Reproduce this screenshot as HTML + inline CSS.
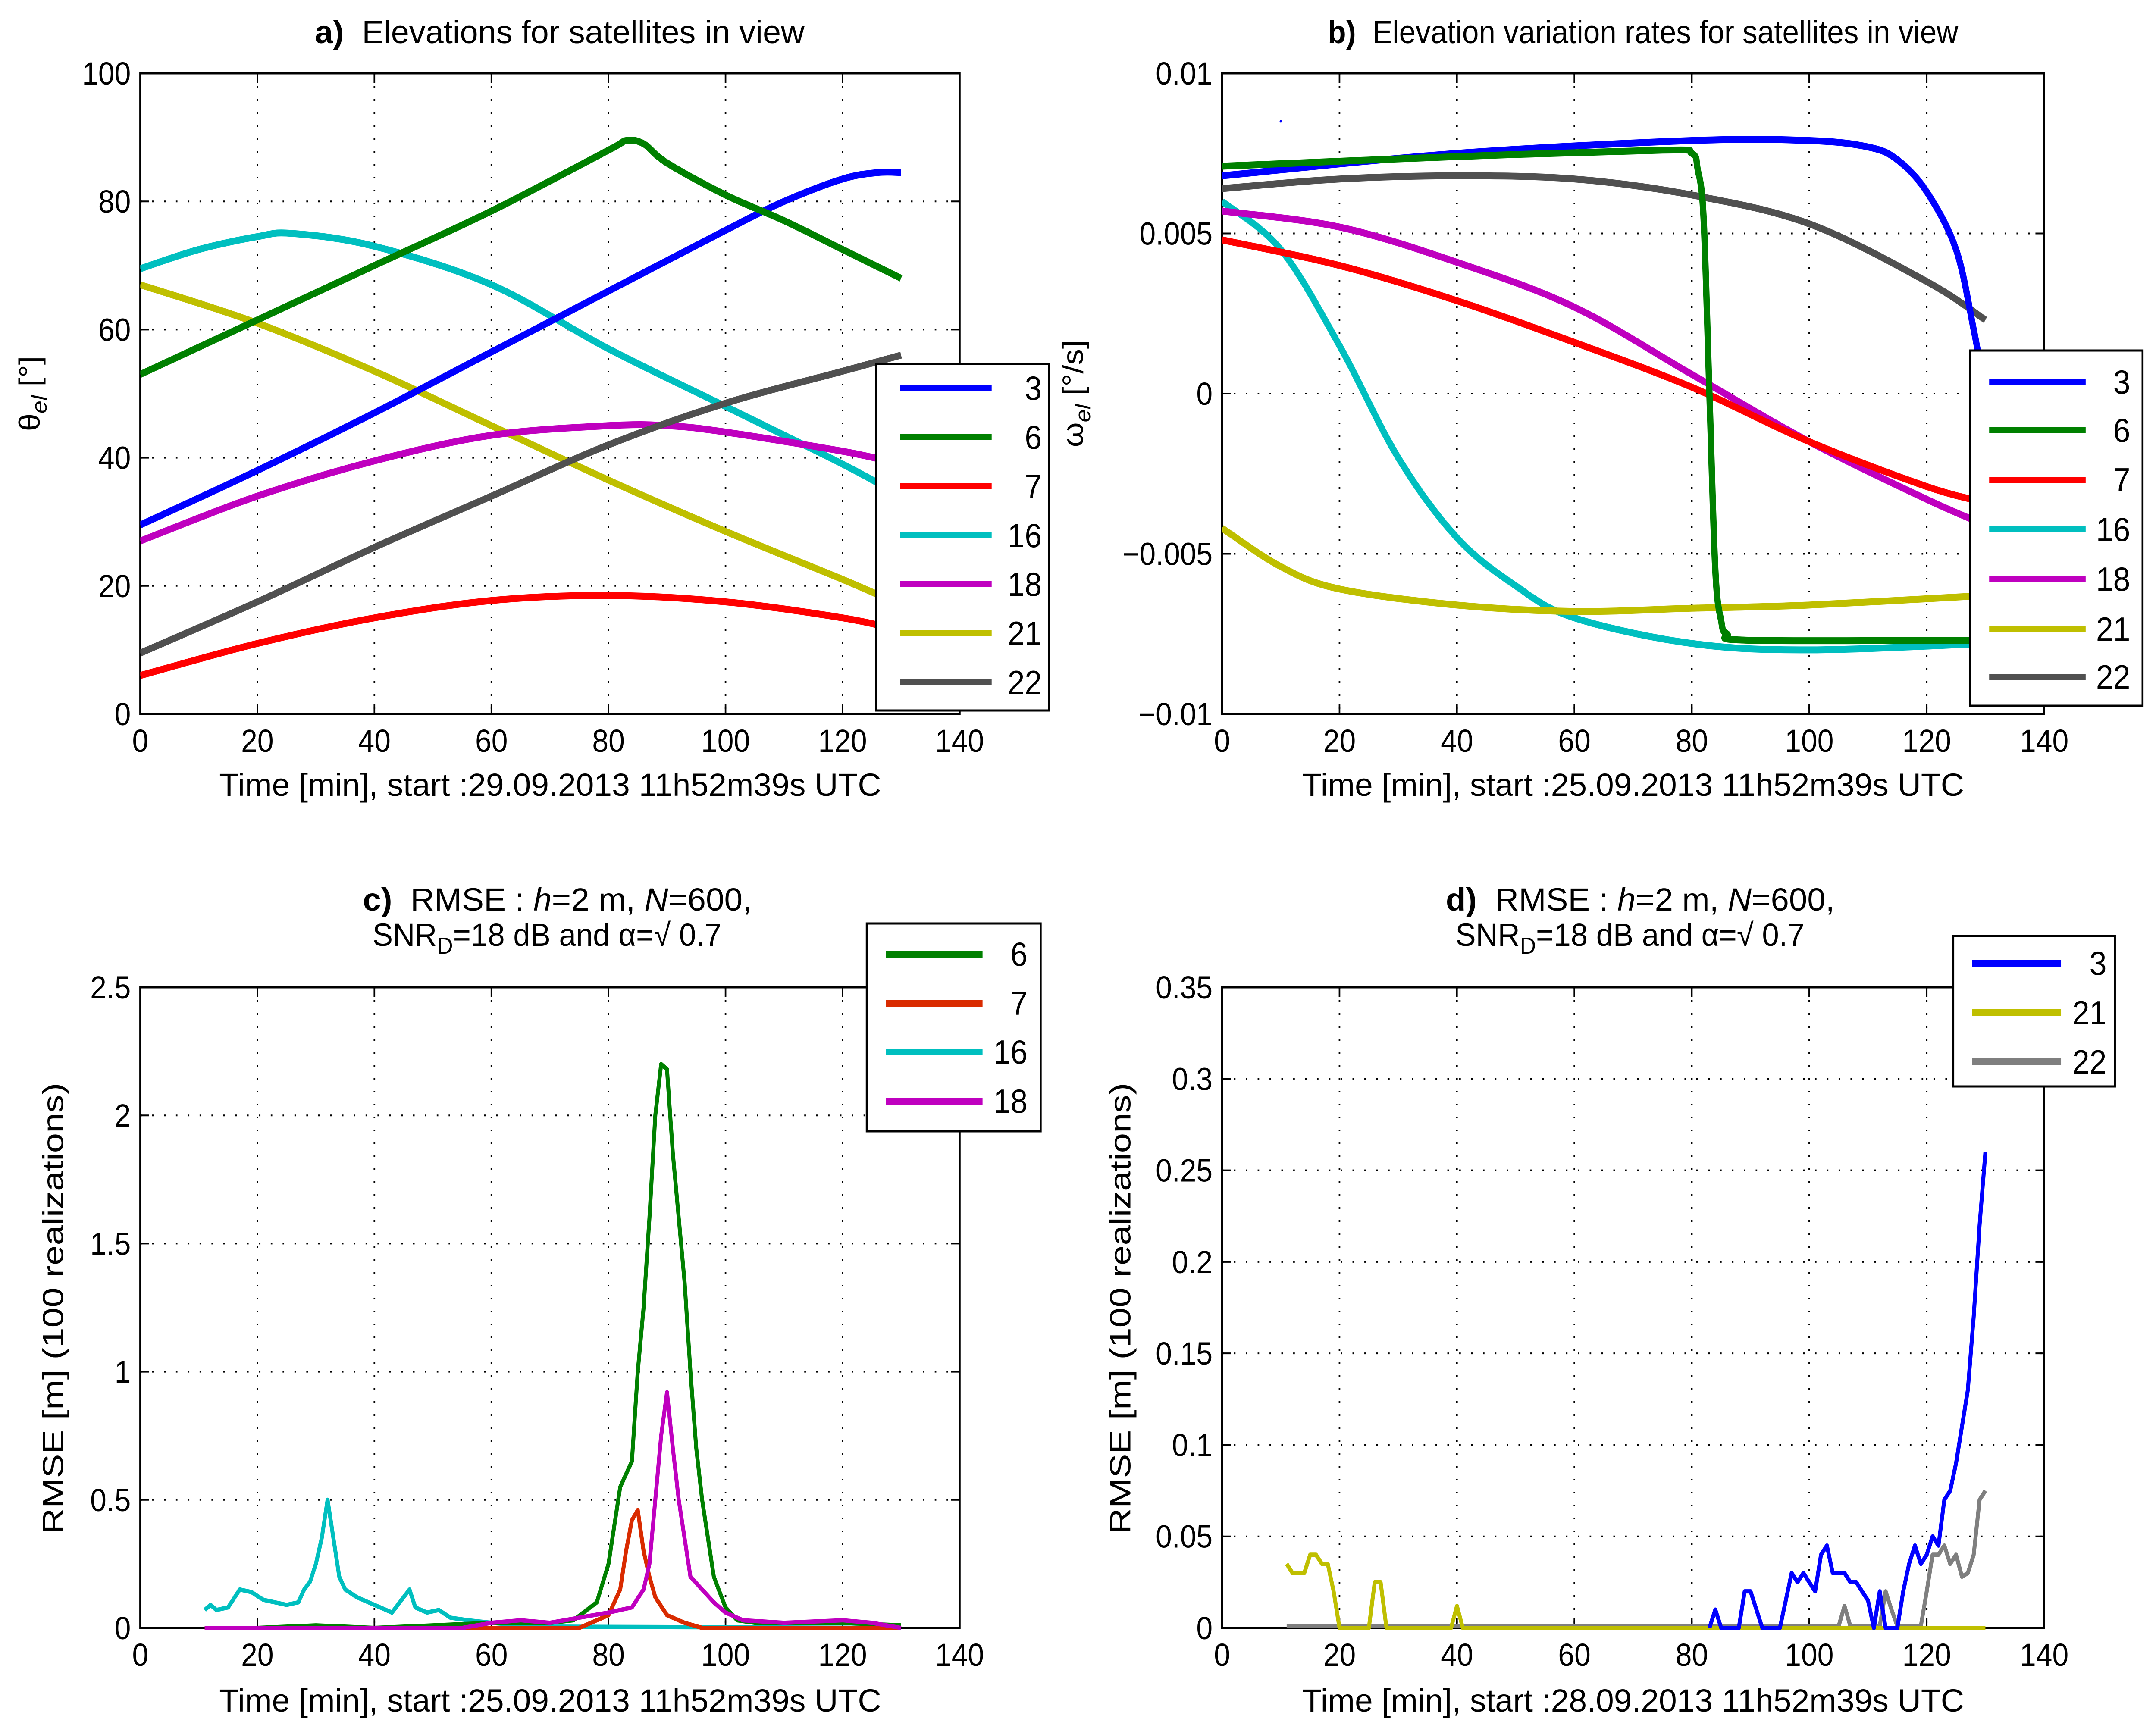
<!DOCTYPE html>
<html><head><meta charset="utf-8"><style>
html,body{margin:0;padding:0;background:#fff;overflow:hidden;width:100%;height:100%;}
svg{display:block;width:100vw;height:100vh;font-family:"Liberation Sans",Arial,sans-serif;}
</style></head><body>
<svg id="fig" xmlns="http://www.w3.org/2000/svg" viewBox="0 0 5455 4022" preserveAspectRatio="none"></svg>
<script>
// ---------- DATA ----------
const ticksX = [0,20,40,60,80,100,120,140];
const ticksA = [0,20,40,60,80,100];
const ticksB = [-0.01,-0.005,0,0.005,0.01];
const tickLabelsB = ["\u22120.01","\u22120.005","0","0.005","0.01"];
const ticksC = [0,0.5,1,1.5,2,2.5];
const tickLabelsC = ["0","0.5","1","1.5","2","2.5"];
const ticksD = [0,0.05,0.1,0.15,0.2,0.25,0.3,0.35];
const tickLabelsD = ["0","0.05","0.1","0.15","0.2","0.25","0.3","0.35"];

// Panel a: elevations
const aT3=[0,20,40,60,80,100,110,120,126,130], aV3=[29.5,38,47,56.5,66,75.5,80,83.5,84.5,84.5];
const aT6=[0,20,40,60,80,83,86,90,100,110,120,130], aV6=[53,61.5,70,78.5,88,89.5,89,86,81,77,72.5,68];
const aT7=[0,20,40,60,80,100,120,130], aV7=[6,11,15,17.7,18.5,17.5,15,13];
const aT16=[0,10,20,26,40,60,80,100,120,130], aV16=[69.5,72.5,74.5,75,73,67,57,48,39,34];
const aT18=[0,20,40,60,80,90,100,120,130], aV18=[27,34,39.5,43.5,45,45,44,41,39];
const aT21=[0,20,40,60,80,100,120,130], aV21=[67,61,53.5,45,36.5,28.5,21,17];
const aT22=[0,20,40,60,80,100,120,130], aV22=[9.5,17.5,26,34,42,48.5,53.5,56];

// Panel b: elevation rates
const bT3=[0,40,80,100,110,115,120,125,128,130], bV3=[0.0068,0.0075,0.0079,0.0079,0.0077,0.0073,0.0063,0.0045,0.002,0];
const bT6=[0,40,75,80,81,82,83,84,85,86,90,130], bV6=[0.0071,0.0074,0.0076,0.0075,0.0070,0.0055,0,-0.0055,-0.0071,-0.0075,-0.0077,-0.0077];
const bT7=[0,20,40,60,80,100,120,130], bV7=[0.0048,0.0040,0.0029,0.0016,0.0002,-0.0015,-0.0029,-0.0034];
const bT16=[0,10,20,30,40,50,60,80,100,130], bV16=[0.006,0.0045,0.0015,-0.002,-0.0045,-0.006,-0.007,-0.0078,-0.008,-0.0078];
const bT18=[0,20,40,60,80,100,120,130], bV18=[0.0057,0.0052,0.0041,0.0027,0.0006,-0.0015,-0.0033,-0.0041];
const bT21=[0,10,20,40,60,80,100,130], bV21=[-0.0042,-0.0054,-0.0061,-0.0066,-0.0068,-0.0067,-0.0066,-0.0063];
const bT22=[0,20,40,60,80,100,120,130], bV22=[0.0064,0.0067,0.0068,0.0067,0.0062,0.0053,0.0035,0.0023];

// Panel c: RMSE
const cT6=[11,20,30,40,50,60,70,74,78,80,82,84,85,86,87,88,89,90,91,92,93,94,95,96,97,98,100,102,105,110,120,130], cV6=[0,0,0.01,0,0.01,0.02,0.02,0.03,0.1,0.25,0.55,0.65,1.0,1.25,1.6,2.0,2.2,2.18,1.85,1.6,1.35,1.0,0.7,0.5,0.35,0.2,0.08,0.03,0.02,0.02,0.02,0.01];
const cT7=[11,75,80,82,83,84,85,86,87,88,90,93,96,130], cV7=[0,0,0.05,0.15,0.3,0.42,0.46,0.3,0.2,0.12,0.05,0.02,0,0];
const cT16=[11,12,13,15,17,19,21,23,25,27,28,29,30,31,32,33,34,35,37,39,41,43,45,46,47,49,51,53,56,60,65,70,130], cV16=[0.07,0.09,0.07,0.08,0.15,0.14,0.11,0.1,0.09,0.1,0.15,0.18,0.25,0.35,0.5,0.35,0.2,0.15,0.12,0.1,0.08,0.06,0.12,0.15,0.08,0.06,0.07,0.04,0.03,0.02,0.01,0.005,0];
const cT18=[11,55,60,65,70,75,80,84,86,87,88,89,90,91,92,93,94,96,98,100,103,110,120,125,130], cV18=[0,0,0.02,0.03,0.02,0.04,0.06,0.08,0.15,0.25,0.5,0.75,0.92,0.7,0.5,0.35,0.2,0.15,0.1,0.06,0.03,0.02,0.03,0.02,0];

// Panel d: RMSE
const dT22=[11,105,106,107,112,113,114,115,119,120,121,122,123,124,125,126,127,128,129,130], dV22=[0.001,0.001,0.012,0.001,0.001,0.02,0.01,0.001,0.001,0.02,0.04,0.04,0.045,0.035,0.04,0.028,0.03,0.04,0.07,0.075];
const dT21=[11,12,14,15,16,17,18,19,20,25,26,27,28,39,40,41,130], dV21=[0.035,0.03,0.03,0.04,0.04,0.035,0.035,0.02,0,0,0.025,0.025,0,0,0.012,0,0];
const dT3=[83,84,85,88,89,90,91,92,95,96,97,98,99,100,101,102,103,104,105,106,107,108,109,110,111,112,113,115,116,117,118,119,120,121,122,123,124,125,126,127,128,129,130], dV3=[0,0.01,0,0,0.02,0.02,0.01,0,0,0.015,0.03,0.025,0.03,0.025,0.02,0.04,0.045,0.03,0.03,0.03,0.025,0.025,0.02,0.015,0,0.02,0,0,0.02,0.035,0.045,0.035,0.04,0.05,0.045,0.07,0.075,0.09,0.11,0.13,0.17,0.22,0.26];

// ---------- DRAWING ----------
const NS="http://www.w3.org/2000/svg";
const svg=document.getElementById('fig');
function mk(tag,attrs,parent){const e=document.createElementNS(NS,tag);for(const k in attrs)e.setAttribute(k,attrs[k]);(parent||svg).appendChild(e);return e;}
const FS=74;

function axes(id,box,ymin,ymax,yt,ylabels){
  const sx=v=>box.x0+(v-0)/(140-0)*(box.x1-box.x0);
  const sy=v=>box.y1-(v-ymin)/(ymax-ymin)*(box.y1-box.y0);
  const g=mk('g',{});
  
  
  ticksX.forEach(t=>{
    const x=sx(t);
    const gl=mk('line',{x1:x,x2:x,y1:box.y0,y2:box.y1,stroke:'#000','stroke-width':4,'stroke-dasharray':'4 26'},g);
    
    
    mk('line',{x1:x,x2:x,y1:box.y1,y2:box.y1-22,stroke:'#000','stroke-width':4},g);
    mk('line',{x1:x,x2:x,y1:box.y0,y2:box.y0+22,stroke:'#000','stroke-width':4},g);
    const tl=mk('text',{x:x,y:box.y1+88,'font-size':FS,'text-anchor':'middle'},g);
    tl.textContent=String(t);
    
    
  });
  yt.forEach((t,i)=>{
    const y=sy(t);
    const gl=mk('line',{x1:box.x0,x2:box.x1,y1:y,y2:y,stroke:'#000','stroke-width':4,'stroke-dasharray':'4 26'},g);
    
    
    mk('line',{x1:box.x0,x2:box.x0+22,y1:y,y2:y,stroke:'#000','stroke-width':4},g);
    mk('line',{x1:box.x1,x2:box.x1-22,y1:y,y2:y,stroke:'#000','stroke-width':4},g);
    const tl=mk('text',{x:box.x0-24,y:y+26,'font-size':FS,'text-anchor':'end'},g);
    tl.textContent=ylabels?ylabels[i]:String(t);
    
    
  });
  mk('rect',{x:box.x0,y:box.y0,width:box.x1-box.x0,height:box.y1-box.y0,fill:'none',stroke:'#000','stroke-width':5},g);
  mk('clipPath',{id:'clip-'+id},g);
  const cp=document.getElementById('clip-'+id);
  mk('rect',{x:box.x0,y:box.y0-10,width:box.x1-box.x0,height:box.y1-box.y0+20},cp);
  return {sx,sy};
}
function series(ax,id,name,T,V,color,w,smooth){
  const P=T.map((t,i)=>[ax.sx(t),ax.sy(V[i])]);
  let d='M'+P[0][0].toFixed(1)+','+P[0][1].toFixed(1);
  for(let i=0;i<P.length-1;i++){
    if(smooth){
      const p0=P[Math.max(0,i-1)],p1=P[i],p2=P[i+1],p3=P[Math.min(P.length-1,i+2)];
      const c1=[p1[0]+(p2[0]-p0[0])/6,p1[1]+(p2[1]-p0[1])/6];
      const c2=[p2[0]-(p3[0]-p1[0])/6,p2[1]-(p3[1]-p1[1])/6];
      d+=' C'+c1[0].toFixed(1)+','+c1[1].toFixed(1)+' '+c2[0].toFixed(1)+','+c2[1].toFixed(1)+' '+p2[0].toFixed(1)+','+p2[1].toFixed(1);
    } else d+=' L'+P[i+1][0].toFixed(1)+','+P[i+1][1].toFixed(1);
  }
  const p=mk('path',{d:d,fill:'none',stroke:color,'stroke-width':w,'stroke-linejoin':'round','clip-path':'url(#clip-'+id+')'});
  
  
}
function legend(name,x,y,w,h,entries,ys,lx0,lx1,tx,lw){
  const g=mk('g',{});
  
  
  mk('rect',{x:x,y:y,width:w,height:h,fill:'#fff',stroke:'#000','stroke-width':5},g);
  entries.forEach((e,i)=>{
    mk('line',{x1:lx0,x2:lx1,y1:ys[i],y2:ys[i],stroke:e[1],'stroke-width':lw},g);
    const t=mk('text',{x:tx,y:ys[i]+27,'font-size':FS+4,'text-anchor':'end'},g);
    t.textContent=e[0];
    
    
  });
}
function text(str,x,y,name,len,extra){
  const a=Object.assign({x:x,y:y,'font-size':FS,'text-anchor':'middle'},extra||{});
  if(len){a.textLength=len;a.lengthAdjust='spacingAndGlyphs';}
  const t=mk('text',a);
  t.innerHTML=str;
  
  
  return t;
}
const C={blue:'#0000ff',green:'#008000',red:'#ff0000',cyan:'#00bfbf',mag:'#bf00bf',yel:'#bfbf00',gray:'#505050'};
const LW=16;

// Panel a
const boxA={x0:355,x1:2428,y0:170,y1:1656};
const axA=axes('a',boxA,0,100,ticksA);
series(axA,'a','series-a-16',aT16,aV16,C.cyan,LW,true);
series(axA,'a','series-a-21',aT21,aV21,C.yel,LW,true);
series(axA,'a','series-a-18',aT18,aV18,C.mag,LW,true);
series(axA,'a','series-a-22',aT22,aV22,C.gray,LW,true);
series(axA,'a','series-a-3',aT3,aV3,C.blue,LW,true);
series(axA,'a','series-a-6',aT6,aV6,C.green,LW,true);
series(axA,'a','series-a-7',aT7,aV7,C.red,LW,true);
legend('legend-a',2217,844,437,804,[['3',C.blue],['6',C.green],['7',C.red],['16',C.cyan],['18',C.mag],['21',C.yel],['22','#505050']],
  [900,1014,1128,1242,1355,1469,1583],2277,2509,2636,14);
text('<tspan font-weight="bold">a)</tspan>&#160;&#160;Elevations for satellites in view',1416,100,'title-a',1239);
text('Time [min], start :29.09.2013 11h52m39s UTC',1392,1846,'x-axis-title-a',1675);
text('&#952;<tspan font-size="54" dy="18" font-style="italic">el</tspan><tspan dy="-18"> [&#176;]</tspan>',0,0,'y-axis-title-a',0,{transform:'translate(100,913) rotate(-90)'});

// Panel b
const boxB={x0:3092,x1:5172,y0:170,y1:1656};
const axB=axes('b',boxB,-0.01,0.01,ticksB,tickLabelsB);
mk('circle',{cx:axB.sx(10),cy:axB.sy(0.0085),r:3,fill:C.blue});
series(axB,'b','series-b-16',bT16,bV16,C.cyan,LW,true);
series(axB,'b','series-b-21',bT21,bV21,C.yel,LW,true);
series(axB,'b','series-b-18',bT18,bV18,C.mag,LW,true);
series(axB,'b','series-b-7',bT7,bV7,C.red,LW,true);
series(axB,'b','series-b-22',bT22,bV22,C.gray,LW,true);
series(axB,'b','series-b-3',bT3,bV3,C.blue,LW,true);
series(axB,'b','series-b-6',bT6,bV6,C.green,LW,true);
legend('legend-b',4984,813,437,824,[['3',C.blue],['6',C.green],['7',C.red],['16',C.cyan],['18',C.mag],['21',C.yel],['22','#505050']],
  [886,998,1113,1228,1343,1459,1570],5033,5277,5390,14);
text('<tspan font-weight="bold">b)</tspan>&#160;&#160;Elevation variation rates for satellites in view',4157,100,'title-b',1595);
text('Time [min], start :25.09.2013 11h52m39s UTC',4132,1846,'x-axis-title-b',1675);
text('&#969;<tspan font-size="54" dy="18" font-style="italic">el</tspan><tspan dy="-18"> [&#176;/s]</tspan>',0,0,'y-axis-title-b',0,{transform:'translate(2740,913) rotate(-90)'});

// Panel c
const boxC={x0:355,x1:2428,y0:2290,y1:3776};
const axC=axes('c',boxC,0,2.5,ticksC,tickLabelsC);
series(axC,'c','series-c-16',cT16,cV16,C.cyan,10);
series(axC,'c','series-c-6',cT6,cV6,C.green,10);
series(axC,'c','series-c-7',cT7,cV7,'#d92b00',10);
series(axC,'c','series-c-18',cT18,cV18,C.mag,10);
legend('legend-c',2193,2142,440,482,[['6',C.green],['7','#d92b00'],['16',C.cyan],['18',C.mag]],
  [2213,2327,2440,2554],2242,2486,2600,16);
text('<tspan font-weight="bold">c)</tspan>&#160;&#160;RMSE : <tspan font-style="italic">h</tspan>=2 m, <tspan font-style="italic">N</tspan>=600,',1410,2112,'title-c-line1',984);
text('SNR<tspan font-size="54" dy="18">D</tspan><tspan dy="-18">=18 dB and &#945;=&#8730; 0.7</tspan>',1384,2194,'title-c-line2',883);
text('Time [min], start :25.09.2013 11h52m39s UTC',1392,3970,'x-axis-title-c',1675);
text('RMSE [m]  (100  realizations)',0,0,'y-axis-title-c',1047,{transform:'translate(160,3035) rotate(-90)'});

// Panel d
const boxD={x0:3092,x1:5172,y0:2290,y1:3776};
const axD=axes('d',boxD,0,0.35,ticksD,tickLabelsD);
series(axD,'d','series-d-22',dT22,dV22,'#7f7f7f',10);
series(axD,'d','series-d-21',dT21,dV21,C.yel,10);
series(axD,'d','series-d-3',dT3,dV3,C.blue,10);
legend('legend-d',4942,2171,409,349,[['3',C.blue],['21',C.yel],['22','#7f7f7f']],
  [2234,2349,2463],4990,5215,5330,16);
text('<tspan font-weight="bold">d)</tspan>&#160;&#160;RMSE : <tspan font-style="italic">h</tspan>=2 m, <tspan font-style="italic">N</tspan>=600,',4150,2112,'title-d-line1',984);
text('SNR<tspan font-size="54" dy="18">D</tspan><tspan dy="-18">=18 dB and &#945;=&#8730; 0.7</tspan>',4124,2194,'title-d-line2',883);
text('Time [min], start :28.09.2013 11h52m39s UTC',4132,3970,'x-axis-title-d',1675);
text('RMSE [m]  (100  realizations)',0,0,'y-axis-title-d',1047,{transform:'translate(2860,3035) rotate(-90)'});
</script>
</body></html>
